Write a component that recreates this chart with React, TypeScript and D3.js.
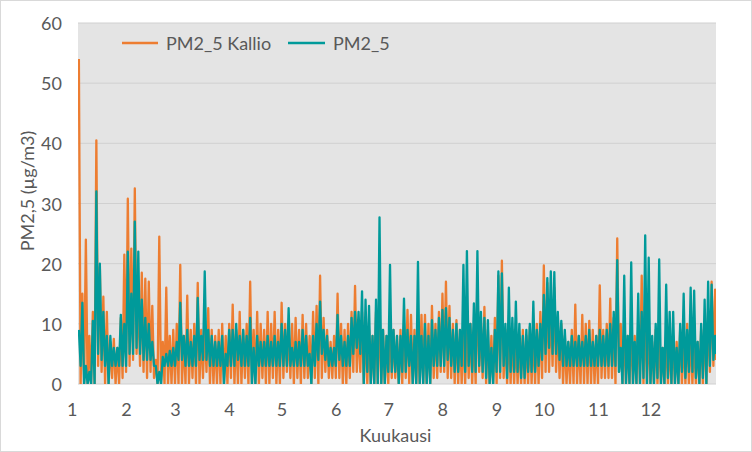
import React from "react";
import * as d3 from "d3";

const W = 752;
const H = 452;

const monthLabels = ["1", "2", "3", "4", "5", "6", "7", "8", "9", "10", "11", "12"];
const monthStartDays = [0, 31, 59, 90, 120, 151, 181, 212, 243, 273, 304, 334];
const yTicks = [0, 10, 20, 30, 40, 50, 60];
const seriesNames = ["PM2_5 Kallio", "PM2_5"];
const windowDays = 2; // each value pair = max / min within a 2-day window

// PM2_5 Kallio (orange): window maxima and minima
const kallioHi = [
  54, 15, 24, 8, 12, 40.5, 19.5, 14.5, 12, 7,
  7.5, 6, 11, 21.5, 30.8, 22.5, 32.5, 15, 18.5, 17.5,
  17, 13, 4, 24.5, 7, 16, 8, 9, 10, 19.8,
  8, 14.7, 9, 10, 16.8, 9, 10, 12.6, 9, 8,
  9, 10, 8, 10, 13.2, 9, 12, 9, 10, 17,
  9, 12, 10, 9, 12, 10, 12, 9, 13.5, 10,
  9, 10, 11, 9, 11.5, 10, 8, 12, 13, 18,
  11, 9, 7, 8, 15, 10, 9, 10, 12, 16.3,
  10, 12, 10, 9, 8, 12, 13, 9, 8, 10,
  9, 8, 9, 10, 12.3, 11.5, 9, 8, 11.5, 11.5,
  10, 13, 10, 12, 15, 17, 13, 10, 10.6, 9,
  9, 11, 10, 9, 17, 10, 12.8, 9, 8, 11,
  18, 20.5, 9, 10, 9, 8, 8, 9, 8, 9.5,
  9, 10, 12, 19.7, 16.8, 14, 16, 11, 10, 8,
  7, 9, 13.2, 8, 11.5, 10, 10.5, 9, 8, 16.4,
  9, 10, 14.2, 11, 24.2, 10, 9, 8, 9, 8,
  10, 18, 12, 10, 7, 9, 8, 6, 8, 7,
  8, 7, 9, 8, 10, 9, 8, 7, 9, 10,
  12, 17, 15.7,
];
const kallioLo = [
  0, 0, 0, 0, 0, 3, 2, 0, 0, 1,
  0, 0, 1, 2, 3, 4, 5, 3, 2, 1,
  2, 1, 0, 0, 0, 0, 0, 0, 0, 0,
  0, 0, 1, 0, 0, 1, 2, 0, 0, 0,
  0, 0, 0, 1, 0, 0, 0, 1, 0, 0,
  0, 0, 1, 0, 0, 1, 0, 0, 1, 2,
  1, 0, 1, 0, 1, 1, 0, 1, 0, 1,
  2, 1, 1, 1, 1, 0, 0, 1, 2, 2,
  2, 0, 0, 0, 0, 0, 0, 0, 0, 1,
  1, 0, 0, 1, 0, 0, 0, 0, 0, 0,
  0, 1, 1, 2, 2, 1, 1, 0, 0, 0,
  0, 1, 0, 0, 2, 1, 0, 0, 0, 0,
  1, 1, 0, 0, 0, 0, 0, 0, 0, 0,
  0, 0, 1, 2, 2, 3, 2, 1, 0, 0,
  0, 0, 0, 0, 0, 0, 0, 0, 0, 1,
  1, 1, 1, 0, 2, 0, 0, 0, 0, 0,
  0, 0, 0, 0, 0, 0, 0, 0, 0, 0,
  0, 0, 0, 0, 0, 0, 0, 0, 0, 0,
  2, 3, 4,
];

// PM2_5 (teal): window maxima and minima
const pmHi = [
  9, 13.5, 3, 2, 10.5, 32, 20, 12, 8, 8,
  6, 6, 11.5, 10, 22, 15, 27, 22, 14, 11,
  10, 7, 3, 2, 4.5, 5, 5.5, 6, 7, 13.5,
  8, 9, 7, 8, 14.3, 8, 18.7, 9, 8, 7,
  7, 8, 5, 9, 9, 10, 8, 9, 8, 11,
  6, 8, 7, 7, 8, 7, 8, 7, 10, 9,
  12.6, 6, 7, 7, 9, 8, 5, 8, 10, 13.7,
  9, 8, 6, 6, 11.5, 8, 7, 8, 11, 12,
  12, 15.4, 14, 13, 8, 14, 27.7, 9, 8, 19.8,
  9, 8, 8, 14.2, 9, 8, 8, 20.3, 8, 10,
  8, 10.6, 9, 11, 12.3, 12.6, 11, 9, 10, 9,
  19.8, 22.1, 10, 13.4, 22.1, 12, 11, 10.6, 6, 9,
  18.7, 18.4, 10, 16, 11, 13.7, 10, 8, 9, 10,
  13.7, 9, 10, 14.8, 17.6, 18.7, 18.6, 12, 10.5, 9,
  7, 8, 7, 8, 7, 8, 9, 7, 8, 9,
  8, 9, 10, 12, 20.6, 6, 18, 8, 20.2, 7,
  15, 12, 24.7, 21, 8, 10, 20.7, 6, 16.5, 12,
  12, 6, 10, 15, 9, 16, 15.5, 7, 10, 14,
  17, 16.5, 8,
];
const pmLo = [
  3, 0, 0, 0, 0, 5, 4, 3, 0, 3,
  3, 3, 3, 3, 5, 5, 6, 5, 4, 4,
  4, 3, 0, 0, 3, 3, 3, 3, 4, 4,
  3, 3, 3, 3, 4, 4, 4, 3, 3, 3,
  3, 0, 3, 3, 3, 4, 3, 3, 3, 0,
  0, 3, 3, 3, 3, 3, 3, 3, 3, 3,
  3, 3, 3, 3, 3, 3, 0, 3, 4, 5,
  4, 3, 3, 3, 4, 3, 3, 3, 5, 6,
  5, 0, 2, 0, 0, 0, 0, 0, 2, 2,
  2, 0, 2, 2, 3, 0, 0, 0, 0, 0,
  0, 3, 3, 3, 3, 4, 3, 2, 2, 3,
  2, 3, 2, 2, 3, 2, 1, 0, 0, 2,
  2, 3, 1, 2, 2, 2, 1, 1, 2, 2,
  2, 3, 4, 5, 6, 5, 5, 4, 3, 3,
  3, 3, 3, 3, 3, 3, 3, 3, 3, 3,
  3, 3, 3, 3, 2, 0, 0, 0, 0, 0,
  0, 1, 0, 0, 0, 1, 0, 0, 1, 0,
  0, 0, 2, 1, 2, 2, 1, 0, 1, 0,
  3, 4, 5,
];

const ORANGE = "#ED7D31";
const TEAL = "#009A9A";
const TEXT = "#595959";
const FONT = "Lato, 'Open Sans', sans-serif";
const FS = 18;

type Pt = [number, number];

function toPoints(hi: number[], lo: number[]): Pt[] {
  const pts: Pt[] = [];
  hi.forEach((h, i) => {
    pts.push([Math.min(365, i * windowDays + 0.5), h]);
    pts.push([Math.min(365, i * windowDays + 1.5), lo[i]]);
  });
  return pts;
}

export default function App() {
  const left = 78, right = 716, top = 23, bottom = 384;
  const x = d3.scaleLinear().domain([0, 365]).range([left, right]);
  const y = d3.scaleLinear().domain([0, 60]).range([bottom, top]);
  const line = d3
    .line<Pt>()
    .x((d) => x(d[0]))
    .y((d) => y(d[1]));

  const orangePath = line(toPoints(kallioHi, kallioLo)) || "";
  const tealPath = line(toPoints(pmHi, pmLo)) || "";

  return (
    <svg
      width={W}
      height={H}
      style={{ position: "absolute", left: 0, top: 0, display: "block", background: "#fff" }}
      fontFamily={FONT}
    >
      <rect x={0.5} y={0.5} width={W - 1} height={H - 1} fill="#fff" stroke="#D9D9D9" />
      <rect x={left} y={top} width={right - left} height={bottom - top} fill="#E4E4E4" />
      {yTicks.map((t) => (
        <line key={"g" + t} x1={left} x2={right} y1={y(t)} y2={y(t)} stroke="#D0D0D0" strokeWidth={1} />
      ))}
      {yTicks.map((t) => (
        <text key={"t" + t} x={62} y={y(t)} textAnchor="end" dominantBaseline="central" fontSize={FS} fill={TEXT}>
          {t}
        </text>
      ))}
      {monthLabels.map((m, i) => (
        <text key={"m" + m} x={x(monthStartDays[i]) - 0.5} y={409} textAnchor="end" dominantBaseline="central" fontSize={FS} fill={TEXT}>
          {m}
        </text>
      ))}
      <defs>
        <clipPath id="plotclip">
          <rect x={left} y={top - 5} width={right - left} height={bottom - top + 5} />
        </clipPath>
      </defs>
      <g clipPath="url(#plotclip)">
        <path d={orangePath} fill="none" stroke={ORANGE} strokeWidth={2.3} strokeLinejoin="round" />
        <path d={tealPath} fill="none" stroke={TEAL} strokeWidth={2.3} strokeLinejoin="round" />
      </g>
      {/* legend */}
      <line x1={122} x2={158} y1={43} y2={43} stroke={ORANGE} strokeWidth={2.5} />
      <text x={166} y={43} dominantBaseline="central" fontSize={FS} fill={TEXT}>
        {seriesNames[0]}
      </text>
      <line x1={288} x2={325} y1={43} y2={43} stroke={TEAL} strokeWidth={2.5} />
      <text x={333} y={43} dominantBaseline="central" fontSize={FS} fill={TEXT}>
        {seriesNames[1]}
      </text>
      {/* axis titles */}
      <text
        x={27}
        y={191}
        transform="rotate(-90 27 191)"
        textAnchor="middle"
        dominantBaseline="central"
        fontSize={FS}
        fill={TEXT}
      >
        PM2,5 (µg/m3)
      </text>
      <text x={395.5} y={435} textAnchor="middle" dominantBaseline="central" fontSize={FS} fill={TEXT}>
        Kuukausi
      </text>
    </svg>
  );
}
